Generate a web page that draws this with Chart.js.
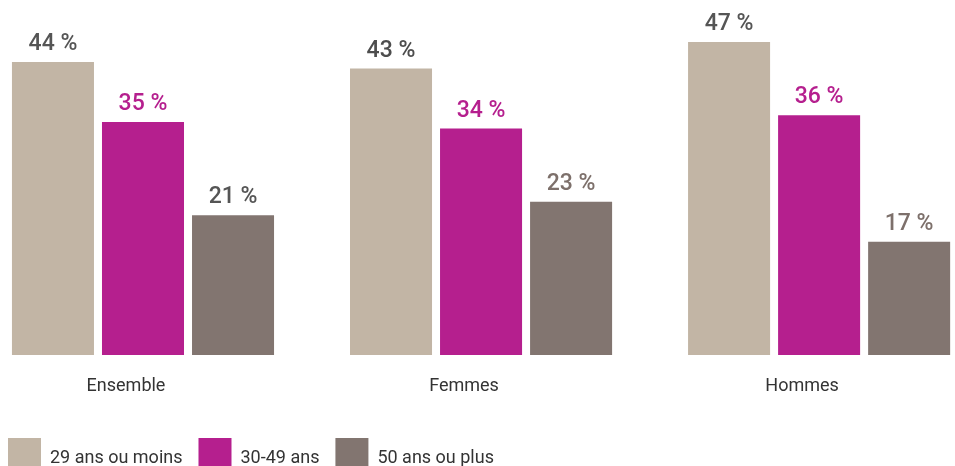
<!DOCTYPE html>
<html>
<head>
<meta charset="utf-8">
<script src="https://cdn.jsdelivr.net/npm/chart.js@4/dist/chart.umd.min.js"></script>
<style>
  html, body { margin: 0; padding: 0; background: #fff; overflow: hidden; }
  #wrap { position: relative; width: 955px; height: 488px; }
</style>
</head>
<body>
<div id="wrap"><canvas id="age-chart"></canvas></div>
<script>
const categories = ['Ensemble', 'Femmes', 'Hommes'];
const ageGroups = ['29 ans ou moins', '30-49 ans', '50 ans ou plus'];
const young = [44, 43, 47];
const middle = [35, 34, 36];
const senior = [21, 23, 17];

const barColors = ['#c2b5a5', '#b51f8e', '#827570'];
const valueColors = [
  ['#555555', '#4d4d4d', '#555555'],
  ['#b51f8e', '#b51f8e', '#b51f8e'],
  ['#555555', '#7d706b', '#7d706b'],
];

const ctx = document.getElementById('age-chart').getContext('2d');

function toPoints(values) {
  return values.map((v, i) => ({ x: i, y: v }));
}

// draws "44 %" above each bar
const valueLabels = {
  id: 'valueLabels',
  afterDatasetsDraw(chart) {
    const c = chart.ctx;
    c.save();
    c.font = '500 23px Roboto';
    c.textAlign = 'center';
    c.textBaseline = 'alphabetic';
    chart.data.datasets.forEach((ds, di) => {
      chart.getDatasetMeta(di).data.forEach((bar, i) => {
        c.fillStyle = valueColors[di][i];
        c.fillText(ds.data[i].y + ' %', bar.x, bar.y - 12);
      });
    });
    c.restore();
  },
};

// nudge the legend a bit to the left
const legendShift = {
  id: 'legendShift',
  afterLayout(chart) {
    chart.legend.left -= 8;
    chart.legend.right -= 8;
  },
};

new Chart(ctx, {
  type: 'bar',
  data: {
    datasets: [
      { label: ageGroups[0], data: toPoints(young), backgroundColor: barColors[0] },
      { label: ageGroups[1], data: toPoints(middle), backgroundColor: barColors[1] },
      { label: ageGroups[2], data: toPoints(senior), backgroundColor: barColors[2] },
    ],
  },
  options: {
    responsive: true,
    maintainAspectRatio: false,
    animation: false,
    categoryPercentage: 0.799,
    barPercentage: 0.911,
    layout: { padding: { top: 22, left: 0, right: 0, bottom: 0 } },
    scales: {
      x: {
        type: 'linear',
        offset: false,
        min: -0.423,
        max: 2.402,
        grid: { display: false, drawTicks: false },
        border: { display: false },
        ticks: {
          stepSize: 1,
          includeBounds: false,
          autoSkip: false,
          maxRotation: 0,
          padding: 21,
          labelOffset: -17,
          color: '#333333',
          font: { family: 'Roboto', size: 18 },
          callback: (value) => (Number.isInteger(value) ? categories[value] : ''),
        },
        afterFit: (axis) => { axis.height = 67; },
      },
      y: {
        display: false,
        min: 0,
        max: 50,
      },
    },
    plugins: {
      legend: {
        position: 'bottom',
        align: 'start',
        labels: {
          boxWidth: 33,
          boxHeight: 40,
          padding: 16,
          color: '#333333',
          font: { family: 'Roboto', size: 18 },
        },
      },
      tooltip: { enabled: false },
    },
  },
  plugins: [valueLabels, legendShift],
});
</script>
</body>
</html>
